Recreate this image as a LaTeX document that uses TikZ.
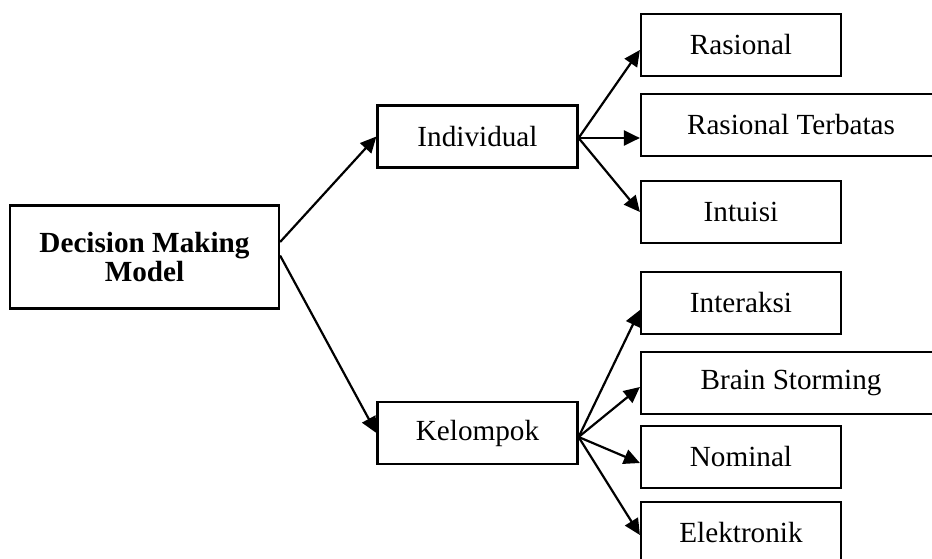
\documentclass[tikz,border=0pt]{standalone}
\usepackage{fontspec}
\setmainfont{Liberation Serif}
\usetikzlibrary{arrows.meta}

\begin{document}
\begin{tikzpicture}[x=0.5pt,y=-0.5pt,line width=1.1pt]
    \clip (0,0) rectangle (932,558);
    \begin{scope}[every node/.style={draw,rectangle,inner sep=0pt,minimum width=100pt,minimum height=31pt,align=center,font=\fontsize{14.6}{14.5}\selectfont}]
    \node[minimum width=134.5pt,minimum height=51.5pt,font=\fontsize{14.6}{14.8}\selectfont\bfseries] (model) at (144.5,257) {Decision Making\\Model};
    \node (indiv) at (477.5,136.5) {Individual};
    \node (kelom) at (477.5,433) {Kelompok};
    \node (ras) at (741,45) {Rasional};
    \node[minimum width=150pt] (rasterb) at (791,125) {Rasional Terbatas};
    \node (intu) at (741,212) {Intuisi};
    \node (inter) at (741,303) {Interaksi};
    \node[minimum width=150pt] (brain) at (791,383) {Brain Storming};
    \node (nomin) at (741,457) {Nominal};
    \node (elek) at (741,533) {Elektronik};
    \end{scope}
    \begin{scope}[every edge/.style={draw=black,-{Triangle[length=8pt,width=7.5pt]}}]
    \path ([yshift=7.5pt]model.east) edge (indiv.west)
          ([yshift=0.75pt]model.east) edge (kelom.west)
          ([yshift=-0.75pt]indiv.east) edge ([yshift=-2.5pt]ras.west)
          ([yshift=-0.75pt]indiv.east) edge ([yshift=-6.5pt]rasterb.west)
          ([yshift=-0.75pt]indiv.east) edge (intu.west)
          ([yshift=-2pt]kelom.east) edge ([yshift=-3.5pt]inter.west)
          ([yshift=-2pt]kelom.east) edge ([yshift=-2pt]brain.west)
          ([yshift=-2pt]kelom.east) edge ([yshift=-3pt]nomin.west)
          ([yshift=-2pt]kelom.east) edge ([yshift=-1pt]elek.west);
    \end{scope}
\end{tikzpicture}
\end{document}
